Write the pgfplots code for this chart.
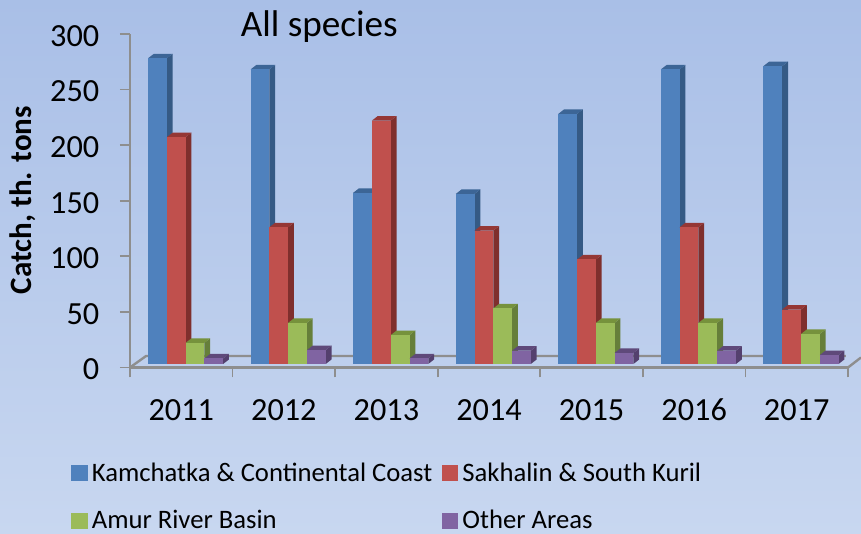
\documentclass[border=0pt]{standalone}
\usepackage{fontspec}
\setmainfont{Carlito}
\usepackage{pgfplots}
\usepackage{pgfplotstable}
\pgfplotsset{compat=1.18}

\definecolor{bgtop}{HTML}{A9BFE7}
\definecolor{bgbot}{HTML}{C8D7F0}
\definecolor{axisgray}{HTML}{8E8E8E}
\definecolor{kamF}{HTML}{4F81BD}\definecolor{kamS}{HTML}{355A85}\definecolor{kamT}{HTML}{3C6596}
\definecolor{sakF}{HTML}{C0504D}\definecolor{sakS}{HTML}{7F2F2D}\definecolor{sakT}{HTML}{953735}
\definecolor{amuF}{HTML}{9BBB59}\definecolor{amuS}{HTML}{667F3A}\definecolor{amuT}{HTML}{76923C}
\definecolor{othF}{HTML}{8064A2}\definecolor{othS}{HTML}{54406E}\definecolor{othT}{HTML}{5F497A}

% Catch by region, thousand tons
\pgfplotstableread{
year kam sak amu oth
2011 275 204 19 5
2012 265 123 37 12.5
2013 154 219 26 5
2014 153 120 50 12
2015 225 94 37 10
2016 265 123 37 12
2017 268 49 27 8
}\catchtable

% Geometry of the 3D columns, in axis units
\def\barw{0.183}
\def\barstart{0.176}
\def\depx{0.0566}
\def\depy{4.05}
\def\basey{3.15}

% #1 row, #2 position in group, #3 column name, #4 colour prefix
\newcommand{\columnthreed}[4]{%
  \pgfplotstablegetelem{#1}{#3}\of\catchtable
  \pgfmathsetmacro\xa{#1+\barstart+#2*\barw}%
  \pgfmathsetmacro\xb{\xa+\barw}%
  \pgfmathsetmacro\xc{\xb+\depx}%
  \pgfmathsetmacro\xd{\xa+\depx}%
  \pgfmathsetmacro\yt{\basey+\pgfplotsretval}%
  \pgfmathsetmacro\yu{\yt+\depy}%
  \pgfmathsetmacro\yb{\basey+\depy}%
  \edef\drawit{%
    \noexpand\addplot[forget plot,draw=none,fill=#4S] coordinates {(\xb,\basey) (\xc,\yb) (\xc,\yu) (\xb,\yt)};
    \noexpand\addplot[forget plot,draw=none,fill=#4T] coordinates {(\xa,\yt) (\xd,\yu) (\xc,\yu) (\xb,\yt)};
    \noexpand\addplot[forget plot,draw=none,fill=#4F] coordinates {(\xa,\basey) (\xb,\basey) (\xb,\yt) (\xa,\yt)};
  }\drawit
}

\begin{document}
\begin{tikzpicture}
\useasboundingbox (0,0) rectangle (645.75pt,400.5pt);
\shade[top color=bgtop,bottom color=bgbot,shading angle=0] (0,0) rectangle (645.75pt,400.5pt);
\begin{axis}[
  at={(97.5pt,124.875pt)},anchor=south west,
  scale only axis,width=538.5pt,height=250.125pt,
  xmin=0,xmax=7,ymin=0,ymax=300,
  clip=false,
  axis y line*=left,axis x line*=bottom,
  axis line style={axisgray,line width=1.8pt,-},
  every tick/.style={axisgray,line width=1.3pt},
  tick align=outside,major tick length=7.5pt,
  xtick={0,1,...,7},
  xticklabels={2011,2012,2013,2014,2015,2016,2017},
  x tick label as interval,
  ytick={0,50,...,300},
  /pgf/number format/assume math mode=true,
  tick label style={font=\fontsize{24.2}{26}\selectfont,black},
  xticklabel style={text height=16pt,text depth=0pt,yshift=-12.7pt},
  yticklabel style={xshift=-12pt,yshift=-1.5pt},
  every axis y label/.style={at={(axis cs:-1.046,150.6)},rotate=90,anchor=center},
  ylabel={\fontsize{23.3}{25}\selectfont\bfseries Catch, th. tons},
  every axis title/.style={at={(axis cs:1.845,306.5)},anchor=center},
  title={\fontsize{27.9}{30}\selectfont All species},
  legend style={at={(axis cs:-0.575,-83)},anchor=north west,draw=none,fill=none,
    font=\fontsize{20}{22}\selectfont,row sep=16.3pt,inner sep=0pt,
    /tikz/every odd column/.append style={column sep=1.5pt},
    /tikz/every even column/.append style={column sep=5.2pt}},
  legend columns=2,
  legend cell align=left,
  legend image code/.code={\fill[#1] (0pt,-5.8pt) rectangle (11.5pt,5.8pt);},
]
% floor of the plot box
\addplot[forget plot,axisgray,line width=1.8pt] coordinates {(0,0) (0.156,10.3) (6.98,10.3)};
\addplot[forget plot,axisgray,line width=1.8pt] coordinates {(7,0) (7.127,9)};
\pgfplotsforeachungrouped \r in {0,...,6}{%
  \columnthreed{\r}{0}{kam}{kam}
  \columnthreed{\r}{1}{sak}{sak}
  \columnthreed{\r}{2}{amu}{amu}
  \columnthreed{\r}{3}{oth}{oth}
}
\addlegendimage{kamF}\addlegendentry{Kamchatka \& Continental Coast}
\addlegendimage{sakF}\addlegendentry{Sakhalin \& South Kuril}
\addlegendimage{amuF}\addlegendentry{Amur River Basin}
\addlegendimage{othF}\addlegendentry{Other Areas}
\end{axis}
\end{tikzpicture}
\end{document}
